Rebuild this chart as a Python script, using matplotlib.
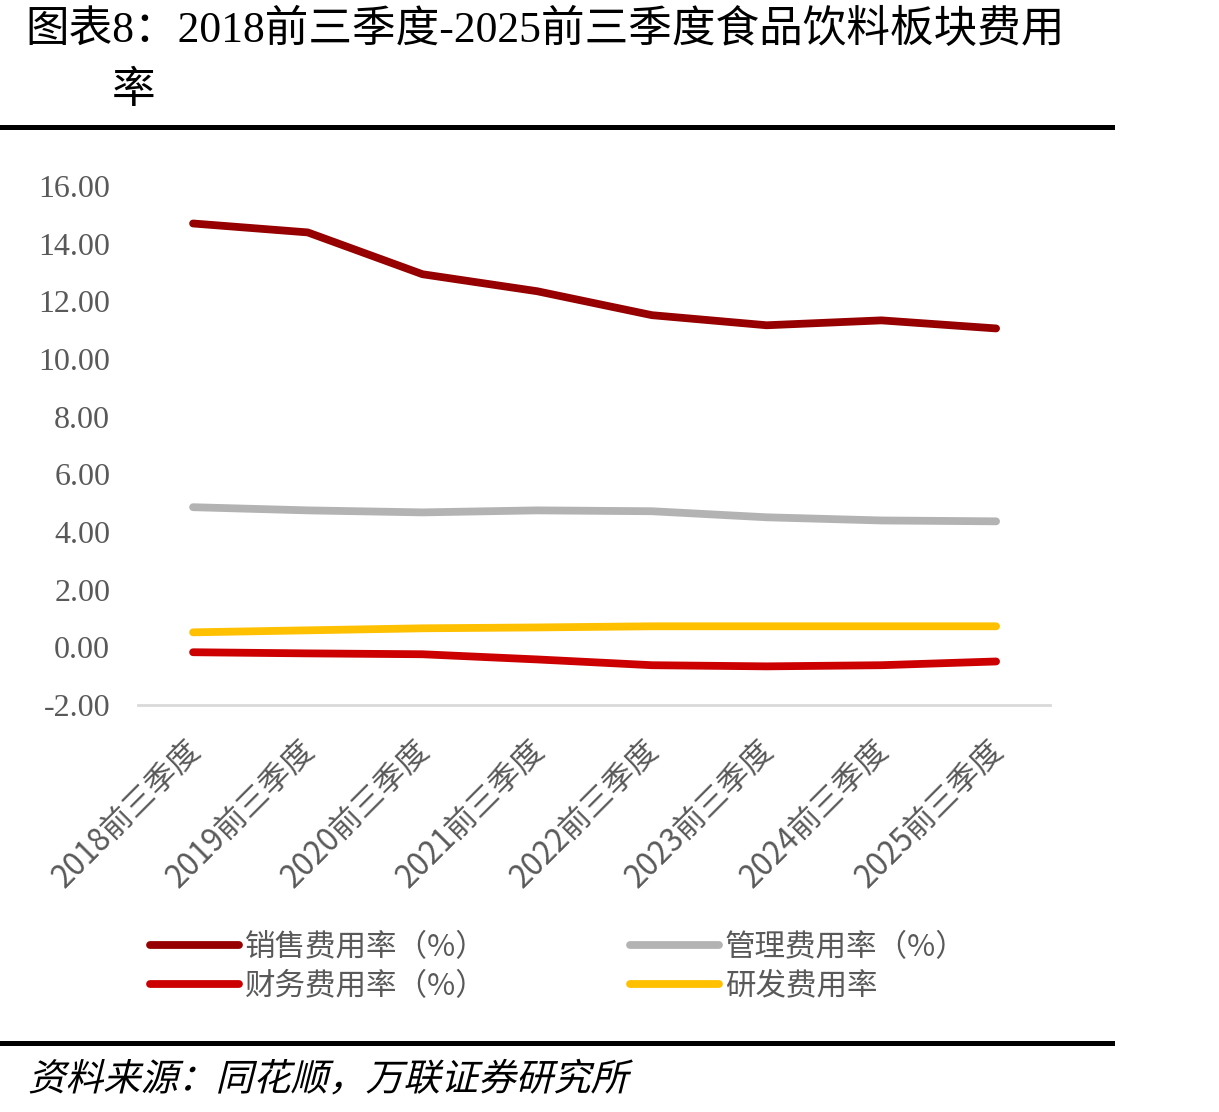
import matplotlib
matplotlib.use("Agg")
import matplotlib.pyplot as plt
from matplotlib.ticker import FormatStrFormatter
from matplotlib.lines import Line2D
from matplotlib.patheffects import AbstractPathEffect
from matplotlib.transforms import Affine2D, ScaledTranslation

categories = ["2018前三季度", "2019前三季度", "2020前三季度", "2021前三季度",
              "2022前三季度", "2023前三季度", "2024前三季度", "2025前三季度"]
sales_rate = [14.70, 14.39, 12.94, 12.35, 11.52, 11.17, 11.34, 11.06]
admin_rate = [4.86, 4.75, 4.68, 4.75, 4.72, 4.51, 4.40, 4.37]
finance_rate = [-0.17, -0.21, -0.24, -0.42, -0.62, -0.66, -0.62, -0.49]
rd_rate = [0.52, 0.59, 0.66, 0.69, 0.73, 0.73, 0.73, 0.73]
yticks = [-2, 0, 2, 4, 6, 8, 10, 12, 14, 16]

labels = ["销售费用率（%）", "管理费用率（%）", "财务费用率（%）", "研发费用率"]
colors = ["#960000", "#b3b3b3", "#cc0000", "#ffc000"]

cjk = ["Noto Sans CJK SC", "DejaVu Sans"]
serif_cjk = ["Liberation Serif", "Noto Sans CJK SC"]
plt.rcParams["font.family"] = cjk
gray = "#595959"


class Italic(AbstractPathEffect):
    def __init__(self, angle=14):
        super().__init__()
        self.angle = angle

    def draw_path(self, renderer, gc, tpath, affine, rgbFace=None):
        x0, y0 = affine.transform((0, 0))
        sk = Affine2D().translate(-x0, -y0).skew_deg(self.angle, 0).translate(x0, y0)
        renderer.draw_path(gc, tpath, affine + sk, rgbFace)


W, H = 1219, 1112
fig = plt.figure(figsize=(W / 100, H / 100), dpi=100)

ax = fig.add_axes([138 / W, 1 - 705 / H, (1050 - 138) / W, (705 - 186) / H])
for s in ["top", "right", "left"]:
    ax.spines[s].set_visible(False)
ax.spines["bottom"].set_color("#d9d9d9")
ax.spines["bottom"].set_linewidth(2)

x = list(range(len(categories)))
series = [sales_rate, admin_rate, finance_rate, rd_rate]
for vals, c in zip(series, colors):
    ax.plot(x, vals, color=c, lw=5.6, solid_capstyle="round", solid_joinstyle="round")

ax.set_ylim(-2, 16)
ax.set_xlim(-0.48, 7.47)
ax.set_yticks(yticks)
ax.yaxis.set_major_formatter(FormatStrFormatter("%.2f"))
ax.set_xticks(x)
ax.set_xticklabels(categories)
ax.tick_params(axis="y", length=0, pad=20, labelsize=23, labelcolor=gray)
ax.tick_params(axis="x", length=0, pad=8, labelsize=22.5, labelcolor=gray)
shift = ScaledTranslation(-9 / 100, -18 / 100, fig.dpi_scale_trans)
for t in ax.get_xticklabels():
    t.set_rotation(45)
    t.set_ha("right")
    t.set_va("top")
    t.set_rotation_mode("anchor")
    t.set_family(cjk)
    t.set_transform(t.get_transform() + shift)
for t in ax.get_yticklabels():
    t.set_family(["Liberation Serif"])

# legend (column-wise order: 销售, 财务, 管理, 研发)
order = [0, 2, 1, 3]
handles = [Line2D([0], [0], color=colors[i], lw=5.6, solid_capstyle="round") for i in order]
leg = fig.legend(handles, [labels[i] for i in order], ncol=2, frameon=False,
                 loc="upper left", bbox_to_anchor=(150 / W, 1 - 932 / H),
                 borderpad=0, borderaxespad=0, handlelength=2.9, handletextpad=0.2,
                 columnspacing=4.7, labelspacing=0.25,
                 prop={"family": cjk, "size": 22})
for t in leg.get_texts():
    t.set_color(gray)

# title
fig.text(25 / W, 1 - 30 / H, "图表8：2018前三季度-2025前三季度食品饮料板块费用",
         family=serif_cjk, fontsize=31.4, va="center", ha="left", color="black")
fig.text(112 / W, 1 - 92 / H, "率",
         family=serif_cjk, fontsize=31.4, va="center", ha="left", color="black")

# rules
fig.add_artist(Line2D([0, 1112 / W], [1 - 127 / H, 1 - 127 / H], color="black", lw=3.6))
fig.add_artist(Line2D([0, 1112 / W], [1 - 1043 / H, 1 - 1043 / H], color="black", lw=3.6))

fig.text(28 / W, 1 - 1080 / H, "资料来源：同花顺，万联证券研究所",
         family=cjk, fontsize=27, va="center", ha="left", color="black",
         path_effects=[Italic(14)])

fig.savefig("out.png", dpi=100)
